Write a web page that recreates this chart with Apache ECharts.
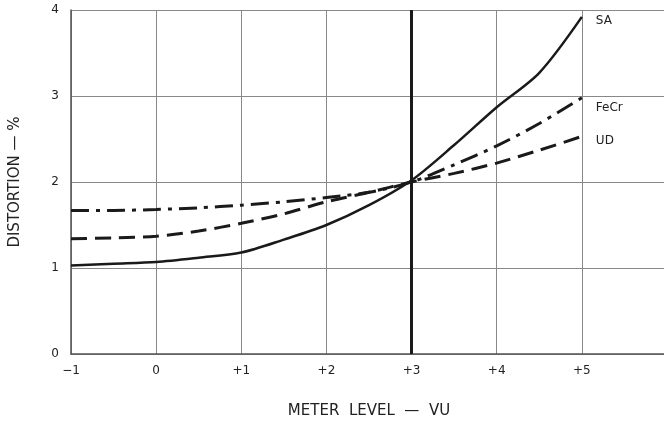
<!DOCTYPE html>
<html>
<head>
<meta charset="utf-8">
<script src="https://cdn.jsdelivr.net/npm/echarts@6/dist/echarts.min.js"></script>
<style>
  html, body { margin: 0; padding: 0; background: #fff; }
  #chart { width: 664px; height: 424px; }
</style>
</head>
<body>
<div id="chart"></div>
<script>
// 数据
let levels = [-1, -0.5, 0, 0.5, 1, 1.5, 2, 2.5, 3, 3.5, 4, 4.5, 5];
let saValues = [1.03, 1.05, 1.07, 1.12, 1.18, 1.33, 1.5, 1.73, 2.02, 2.43, 2.87, 3.27, 3.92];
let fecrValues = [1.67, 1.67, 1.68, 1.7, 1.73, 1.77, 1.82, 1.88, 2.0, 2.2, 2.42, 2.68, 2.98];
let udValues = [1.34, 1.35, 1.37, 1.43, 1.52, 1.63, 1.77, 1.88, 2.0, 2.1, 2.22, 2.37, 2.53];
let seriesNames = ["SA", "FeCr", "UD"];

let chart = echarts.init(document.getElementById("chart"));

function pairs(values) {
  return levels.map((x, i) => [x, values[i]]);
}

let ink = "#1a1a1a";
let font = "DejaVu Sans";

function lineSeries(name, values, type, width, offset) {
  return {
    name: name,
    type: "line",
    smooth: 0.3,
    symbol: "none",
    data: pairs(values),
    lineStyle: {
      color: ink,
      width: width,
      type: type
    },
    endLabel: {
      show: true,
      formatter: "{a}",
      color: "#222",
      fontFamily: font,
      fontSize: 12,
      offset: offset
    }
  };
}

let option = {
  animation: false,
  grid: {
    left: 71,
    top: 10,
    width: 596,
    height: 344,
    outerBoundsMode: "none"
  },
  xAxis: {
    type: "value",
    min: -1,
    max: 6,
    interval: 1,
    name: "METER  LEVEL  —  VU",
    nameLocation: "middle",
    nameGap: 50,
    nameTextStyle: { color: "#222", fontFamily: font, fontSize: 15 },
    axisLine: { onZero: false, lineStyle: { color: "#555", width: 1.5 } },
    axisTick: { show: false },
    splitLine: { lineStyle: { color: "#888", width: 1 } },
    axisLabel: {
      color: "#222",
      fontFamily: font,
      fontSize: 12,
      margin: 11,
      formatter: v => v === 6 ? "" : v > 0 ? "+" + v : v < 0 ? "−" + Math.abs(v) : "" + v
    }
  },
  yAxis: {
    type: "value",
    min: 0,
    max: 4,
    interval: 1,
    name: "DISTORTION — %",
    nameLocation: "middle",
    nameGap: 48,
    nameTextStyle: { color: "#222", fontFamily: font, fontSize: 15 },
    axisLine: { show: true, onZero: false, lineStyle: { color: "#555", width: 1.5 } },
    axisTick: { show: false },
    splitLine: { lineStyle: { color: "#888", width: 1 } },
    axisLabel: { color: "#222", fontFamily: font, fontSize: 12, margin: 12 }
  },
  series: [
    Object.assign(lineSeries(seriesNames[0], saValues, "solid", 2.5, [6, 4]), {
      markLine: {
        silent: true,
        symbol: "none",
        label: { show: false },
        lineStyle: { color: ink, width: 3, type: "solid" },
        data: [{ xAxis: 3 }]
      }
    }),
    lineSeries(seriesNames[1], fecrValues, [18, 7, 4, 7], 3, [6, 10]),
    lineSeries(seriesNames[2], udValues, [16, 8], 3, [6, 4])
  ]
};

chart.setOption(option, true);
</script>
</body>
</html>
